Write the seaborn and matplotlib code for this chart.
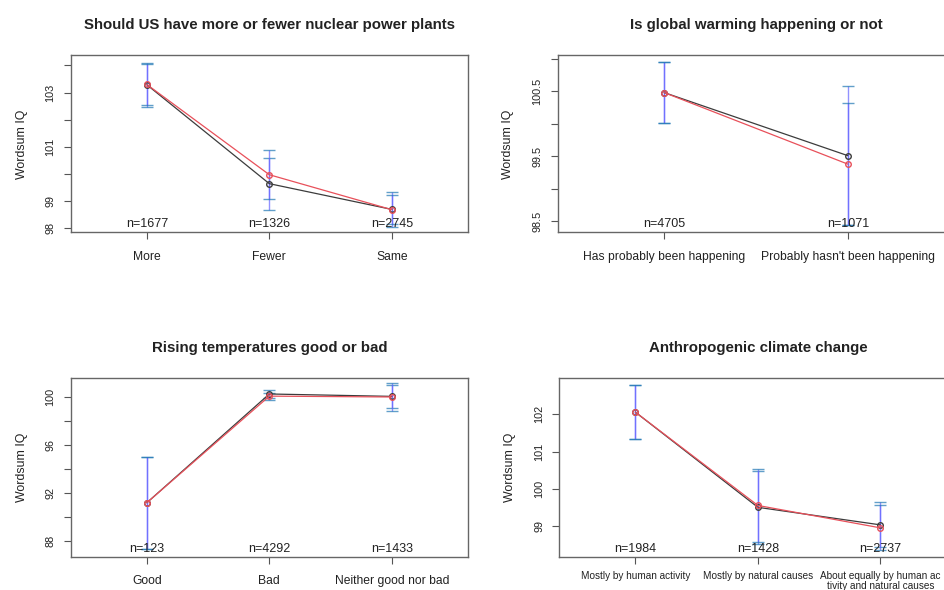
import matplotlib
matplotlib.use("Agg")
import matplotlib.pyplot as plt
import pandas as pd
import seaborn as sns

sns.set_style("white")
plt.rcParams['font.family'] = ['Liberation Sans', 'DejaVu Sans']

# Should US have more or fewer nuclear power plants
nuclear_cats = ["More", "Fewer", "Same"]
nuclear_black = [103.29, 99.64, 98.69]
nuclear_red = [103.30, 99.97, 98.68]
nuclear_black_err = [0.81, 0.96, 0.66]
nuclear_red_err = [0.75, 0.91, 0.54]
nuclear_n = [1677, 1326, 2745]

# Is global warming happening or not
warming_cats = ["Has probably been happening", "Probably hasn't been happening"]
warming_black = [100.48, 99.51]
warming_red = [100.48, 99.38]
warming_black_err = [0.47, 1.07]
warming_red_err = [0.47, 0.94]
warming_n = [4705, 1071]

# Rising temperatures good or bad
temp_cats = ["Good", "Bad", "Neither good nor bad"]
temp_black = [91.19, 100.28, 100.08]
temp_red = [91.19, 100.10, 100.03]
temp_black_err = [3.86, 0.35, 0.95]
temp_red_err = [3.86, 0.30, 1.20]
temp_n = [123, 4292, 1433]

# Anthropogenic climate change
anthro_cats = ["Mostly by human activity", "Mostly by natural causes",
               "About equally by human ac\ntivity and natural causes"]
anthro_black = [102.06, 99.51, 99.04]
anthro_red = [102.06, 99.56, 98.96]
anthro_black_err = [0.72, 0.98, 0.60]
anthro_red_err = [0.72, 0.99, 0.60]
anthro_n = [1984, 1428, 2737]


def means_plot(ax, cats, black, red, black_err, red_err, n, title,
               ylim, ticks, labels, xfont=8.7, xpad=8):
    x = list(range(1, len(cats) + 1))
    df = pd.DataFrame({"x": x * 2, "y": black + red,
                       "series": ["black"] * len(x) + ["red"] * len(x)})
    for y, err in [(black, black_err), (red, red_err)]:
        ax.errorbar(x, y, yerr=err, fmt="none", ecolor="#6464ff", alpha=0.7,
                    elinewidth=1.0, capsize=4, capthick=1.0, zorder=1)
    sns.lineplot(data=df, x="x", y="y", hue="series",
                 palette={"black": "#3c3c3c", "red": "#e8505a"},
                 marker="o", markersize=4, markerfacecolor="none",
                 markeredgewidth=1, linewidth=0.9, legend=False, ax=ax, zorder=3)
    for line in ax.lines:
        line.set_markeredgecolor(line.get_color())
    ax.set_xlim(0.5 - 0.04 * len(cats), len(cats) + 0.5 + 0.04 * len(cats))
    ax.set_ylim(*ylim)
    ax.set_xticks(x)
    ax.set_xticklabels(cats, fontsize=xfont, color="#222222", linespacing=1.0)
    ax.set_yticks(ticks)
    ax.set_yticklabels(labels, rotation=90, va="center", fontsize=7.8, color="#222222")
    ax.tick_params(axis="both", direction="out", length=5, width=0.8,
                   color="#555555", bottom=True, left=True)
    ax.tick_params(axis="y", pad=6)
    ax.tick_params(axis="x", pad=xpad)
    for s in ax.spines.values():
        s.set_color("#666666")
        s.set_linewidth(1)
    for xi, ni in zip(x, n):
        ax.text(xi, ylim[0] + (ylim[1] - ylim[0]) * 0.012, "n=%d" % ni,
                ha="center", va="bottom", fontsize=9, color="#222222")
    ax.set_title(title, fontsize=10.8, fontweight="bold", pad=19, color="#222222")
    ax.set_xlabel("")
    ax.set_ylabel("Wordsum IQ", fontsize=8.9, color="#222222", labelpad=13)


fig = plt.figure(figsize=(9.45, 5.9), dpi=100)
ax1 = fig.add_axes([0.075, 0.606, 0.420, 0.300])
ax2 = fig.add_axes([0.590, 0.606, 0.420, 0.300])
ax3 = fig.add_axes([0.075, 0.056, 0.420, 0.303])
ax4 = fig.add_axes([0.592, 0.056, 0.420, 0.303])

means_plot(ax1, nuclear_cats, nuclear_black, nuclear_red, nuclear_black_err,
           nuclear_red_err, nuclear_n, "Should US have more or fewer nuclear power plants",
           (97.84, 104.37), [98, 99, 100, 101, 102, 103, 104],
           ["98", "99", "", "101", "", "103", ""])
means_plot(ax2, warming_cats, warming_black, warming_red, warming_black_err,
           warming_red_err, warming_n, "Is global warming happening or not",
           (98.33, 101.05), [98.5, 99.0, 99.5, 100.0, 100.5, 101.0],
           ["98.5", "", "99.5", "", "100.5", ""])
means_plot(ax3, temp_cats, temp_black, temp_red, temp_black_err,
           temp_red_err, temp_n, "Rising temperatures good or bad",
           (86.66, 101.6), [88, 90, 92, 94, 96, 98, 100],
           ["88", "", "92", "", "96", "", "100"])
means_plot(ax4, anthro_cats, anthro_black, anthro_red, anthro_black_err,
           anthro_red_err, anthro_n, "Anthropogenic climate change",
           (98.18, 102.97), [99, 100, 101, 102],
           ["99", "100", "101", "102"], xfont=7.2, xpad=5)

fig.savefig("out.png", dpi=100)
